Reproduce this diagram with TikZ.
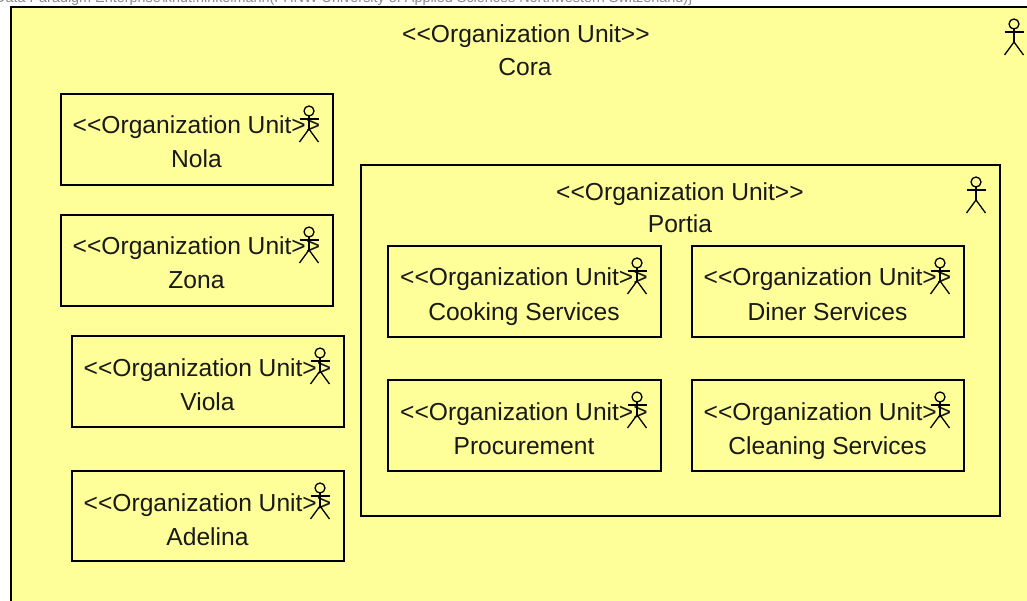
\documentclass[tikz,border=0pt]{standalone}
\usepackage{fontspec}
\setmainfont[Ligatures=NoCommon]{Liberation Sans}
\definecolor{unitfill}{HTML}{FFFF99}
\definecolor{headgray}{HTML}{8A8A8A}
\tikzset{
  x=1pt,y=-1pt,
  unitbox/.style={draw=black,fill=unitfill,line width=1.5pt},
  lab/.style={font=\fontsize{24.6}{26}\selectfont,text=black!90,inner sep=0pt,anchor=base},
  actorline/.style={draw=black,line width=1.3pt}
}
\newcommand{\actor}[3]{% name, x centre, y top
  \coordinate (#1) at (#2,#3);
  \draw[actorline] ([yshift=-5pt]#1) circle (5pt);
  \draw[actorline] ([yshift=-10pt]#1) -- ([yshift=-23pt]#1);
  \draw[actorline] ([xshift=-9.5pt,yshift=-13pt]#1) -- ([xshift=9.5pt,yshift=-13pt]#1);
  \draw[actorline] ([xshift=-9.5pt,yshift=-36pt]#1) -- ([yshift=-23pt]#1) -- ([xshift=9.5pt,yshift=-36pt]#1);
}
\newcommand{\ounit}[6]{% name x y w h label
  \draw[unitbox] (#2,#3) rectangle ++(#4,#5);
  \node[lab] (#1s) at ({#2+#4/2-0.5},{#3+40}) {<{}<Organization Unit>{}>};
  \node[lab] (#1n) at ({#2+#4/2-0.5},{#3+74}) {#6};
  \actor{#1a}{#2+#4-24}{#3+12}
}
\begin{document}
\begin{tikzpicture}
\useasboundingbox (0,0) rectangle (1027,601);
\fill[white] (0,0) rectangle (1027,601);
\begin{scope}
\clip (0,0) rectangle (1027,6);
\node[font=\fontsize{14.4}{16}\selectfont,text=headgray,inner sep=0pt,anchor=base west] (pathline) at (-5,3) {Data Paradigm Enterprise\textbackslash knut.hinkelmann(FHNW University of Applied Sciences Northwestern Switzerland)\}};
\end{scope}
\draw[unitbox] (11,7) rectangle (1040,620);
\node[lab] (corast) at (526,43) {<{}<Organization Unit>{}>};
\node[lab] (coran) at (525,76) {Cora};
\actor{coraa}{1014}{19}
\ounit{nola}{61}{94}{272}{91}{Nola}
\ounit{zona}{61}{215}{272}{91}{Zona}
\ounit{viola}{72}{336}{272}{91}{Viola}
\ounit{adelina}{72}{471}{272}{90}{Adelina}
\draw[unitbox] (361,165) rectangle (1000,516);
\node[lab] (portiast) at (680,201) {<{}<Organization Unit>{}>};
\node[lab] (portian) at (680,233) {Portia};
\actor{portiaa}{976}{177}
\ounit{cook}{388}{246}{273}{91}{Cooking Services}
\ounit{diner}{692}{246}{272}{91}{Diner Services}
\ounit{proc}{388}{380}{273}{91}{Procurement}
\ounit{clean}{692}{380}{272}{91}{Cleaning Services}
\end{tikzpicture}
\end{document}
